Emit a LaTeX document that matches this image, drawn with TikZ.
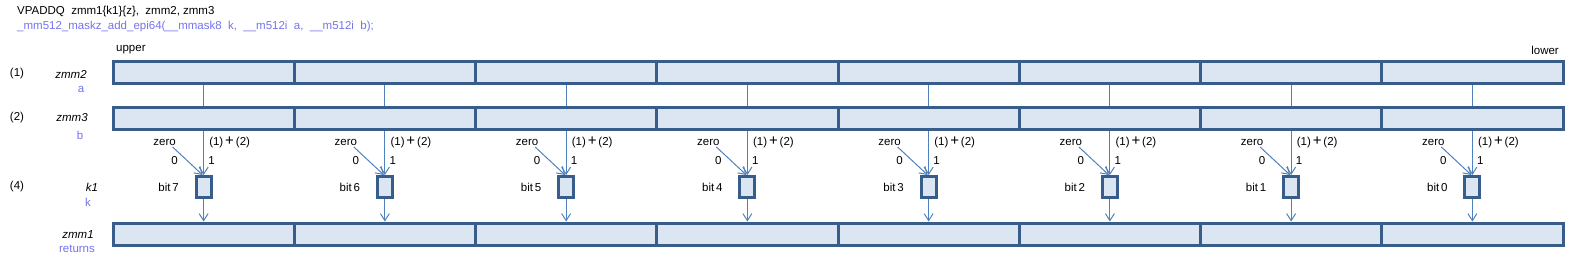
\documentclass[tikz,border=0pt]{standalone}
\usepackage{fontspec}
\setmainfont{Liberation Sans}
\usetikzlibrary{arrows.meta}
\definecolor{regline}{RGB}{56,93,138}
\definecolor{regfill}{RGB}{220,230,242}
\definecolor{wire}{RGB}{79,129,189}
\definecolor{arglab}{RGB}{115,115,240}
\tikzset{
  lab/.style={inner sep=0pt,font=\fontsize{11.5}{13}\selectfont},
  alab/.style={lab,text=arglab},
  cell/.style={rectangle,draw=regline,fill=regfill,line width=3pt,minimum width=181.25pt,minimum height=22pt,inner sep=0pt},
  mbox/.style={rectangle,draw=regline,fill=regfill,line width=3pt,minimum width=15pt,minimum height=21pt,inner sep=0pt},
  we/.style={draw=wire,line width=1pt},
  wa/.style={-{Straight Barb[length=7pt,width=9pt]},draw=wire,line width=1pt}
}

\begin{document}
\begin{tikzpicture}[x=1pt,y=-1pt]
\useasboundingbox (0,0) rectangle (1571,266);
% header
\node[lab,anchor=west] (ins) at (17,12) {VPADDQ\ \ zmm1\{k1\}\{z\},\ \ zmm2, zmm3};
\node[alab,anchor=west] (intr) at (17,27) {\_mm512\_maskz\_add\_epi64(\_\_mmask8\ \ k,\ \ \_\_m512i\ \ a,\ \ \_\_m512i\ \ b);};
\node[lab,anchor=west] (up) at (116,50) {upper};
\node[lab,anchor=east] (lo) at (1559,50) {lower};
% row labels
\node[lab] (n1) at (17,74) {(1)};
\node[lab] (n2) at (17,118) {(2)};
\node[lab] (n4) at (17,187) {(4)};
\node[lab] (za) at (71,74) {\itshape zmm2};
\node[alab] (la) at (81,89) {a};
\node[lab] (zb) at (72,118) {\itshape zmm3};
\node[alab] (lb) at (80,135) {b};
\node[lab] (zk) at (92,187) {\itshape k1};
\node[alab] (lk) at (88,202) {k};
\node[lab] (zr) at (78,235) {\itshape zmm1};
\node[alab] (lr) at (77,249) {returns};
% one column per bit
\foreach \i in {0,...,7}{
  \pgfmathsetmacro\cx{203.625+181.25*\i}
  \pgfmathtruncatemacro\bit{7-\i}
  \node[cell] (a\i) at (\cx,72.5) {};
  \node[cell] (b\i) at (\cx,118) {};
  \node[cell] (r\i) at (\cx,234) {};
  \node[mbox] (m\i) at (\cx,187) {};
  \node[lab] (z\i) at (\cx-39,142) {zero};
  \node[lab] (s\i) at (\cx+26,142) {(1)\,{\fontsize{15}{15}\selectfont +}\,(2)};
  \node[lab] (o\i) at (\cx-29,161) {0};
  \node[lab] (e\i) at (\cx+8,161) {1};
  \node[lab] (k\i) at (\cx-35,187) {bit\,\bit};
  \coordinate (zs\i) at (\cx-31,147);
  \draw[we] (a\i.south) -- (b\i.north);
  \draw[wa] (b\i.south) -- (m\i.north);
  \draw[wa] (zs\i) -- ([xshift=-1pt]m\i.north);
  \draw[wa] (m\i.south) -- (r\i.north);
}
\end{tikzpicture}
\end{document}
